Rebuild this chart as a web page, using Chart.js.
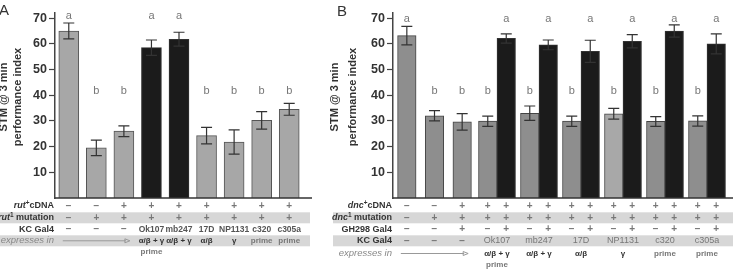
<!DOCTYPE html>
<html><head><meta charset="utf-8">
<script src="https://cdn.jsdelivr.net/npm/chart.js@4.4.0/dist/chart.umd.min.js"></script>
<style>
html,body{margin:0;padding:0;background:#fff;overflow:hidden}
#wrap{position:relative;width:733px;height:269px;background:#fff}
canvas{position:absolute;top:0}
#ca{left:0}
#cb{left:330px}
</style></head><body>
<div id="wrap"><canvas id="ca" width="330" height="269"></canvas><canvas id="cb" width="403" height="269"></canvas></div>
<script>
const yTickValues = [10, 20, 30, 40, 50, 60, 70];
const yTitle = ['STM @ 3 min', 'performance index'];

const aCategories = ['control 1', 'control 2', 'control 3', 'Ok107', 'mb247', '17D', 'NP1131', 'c320', 'c305a'];
const aNoRescue = [65, 19.5, 26, null, null, 24.3, 21.8, 30.2, 34.5];
const aRescue   = [null, null, null, 58.5, 61.8, null, null, null, null];
const aError    = [3.1, 3.0, 2.1, 3.0, 2.7, 3.2, 4.7, 3.4, 2.3];
const aLetters  = ['a', 'b', 'b', 'a', 'a', 'b', 'b', 'b', 'b'];
const aCDNA     = ['−', '−', '+', '+', '+', '+', '+', '+', '+'];
const aMutation = ['−', '+', '+', '+', '+', '+', '+', '+', '+'];
const aKCGal4   = ['−', '−', '−', 'Ok107', 'mb247', '17D', 'NP1131', 'c320', 'c305a'];
const aExpresses = ['', '', '', 'α/β + γ\nprime', 'α/β + γ', 'α/β', 'γ', 'prime', 'prime'];

const bControls     = ['control 1', 'control 2', 'control 3'];
const bCtrlValues   = [63.2, 32, 29.6];
const bCtrlError    = [3.6, 2.0, 3.2];
const bCtrlLetters  = ['a', 'b', 'b'];
const bCtrlCDNA     = ['−', '−', '+'];
const bCtrlMutation = ['−', '+', '+'];
const bCtrlGH298    = ['−', '−', '+'];
const bCtrlKC       = ['−', '−', '−'];

const bDrivers      = ['Ok107', 'mb247', '17D', 'NP1131', 'c320', 'c305a'];
const bExpresses    = ['α/β + γ\nprime', 'α/β + γ', 'α/β', 'γ', 'prime', 'prime'];
const bNoGH         = [29.9, 33, 29.9, 32.8, 29.8, 30];
const bNoGHError    = [2.0, 2.8, 2.0, 2.1, 1.9, 2.0];
const bNoGHLetters  = ['b', 'b', 'b', 'b', 'b', 'b'];
const bWithGH       = [62.1, 59.6, 57.1, 61.0, 65.0, 60.0];
const bWithGHError  = [1.8, 1.9, 4.3, 2.6, 2.4, 3.9];
const bWithGHLetters= ['a', 'a', 'a', 'a', 'a', 'a'];
const bNoGHCDNA     = ['+', '+', '+', '+', '+', '+'];
const bNoGHMutation = ['+', '+', '+', '+', '+', '+'];
const bNoGHGH298    = ['−', '−', '−', '−', '−', '−'];
const bGHCDNA       = ['+', '+', '+', '+', '+', '+'];
const bGHMutation   = ['+', '+', '+', '+', '+', '+'];
const bGHGH298      = ['+', '+', '+', '+', '+', '+'];

const FF = "'Liberation Sans', Arial, Helvetica, sans-serif";
const ROWS_Y = [206, 217.8, 229.3, 240.8, 253.5, 265];

function richRight(ctx, parts, xr, y) {
  let w = 0;
  parts.forEach(p => { ctx.font = p.f; p.w = ctx.measureText(p.t).width; w += p.w; });
  let x = xr - w;
  ctx.textAlign = 'left'; ctx.textBaseline = 'middle';
  parts.forEach(p => { ctx.font = p.f; ctx.fillStyle = p.c || '#333'; ctx.fillText(p.t, x, y + (p.dy || 0)); x += p.w; });
}
function centerText(ctx, t, x, y, font, color) {
  ctx.font = font; ctx.fillStyle = color; ctx.textAlign = 'center'; ctx.textBaseline = 'middle';
  ctx.fillText(t, x, y);
}
function cell(ctx, t, x, y, kind, lineGap) {
  if (t === '−' || t === '+') { centerText(ctx, t, x, y, 'bold 10px ' + FF, '#777'); return; }
  if (kind === 'kc') { centerText(ctx, t, x, y, 'bold 8.5px ' + FF, '#555'); return; }
  t.split('\n').forEach((ln, k) => {
    centerText(ctx, ln, x, y + k * (lineGap || 11.5), 'bold 8px ' + FF, ln === 'prime' ? '#777' : '#333');
  });
}
function arrow(ctx, x0, x1, y) {
  ctx.save();
  ctx.strokeStyle = '#999'; ctx.lineWidth = 1;
  ctx.beginPath(); ctx.moveTo(x0, y); ctx.lineTo(x1 - 4, y); ctx.stroke();
  ctx.beginPath(); ctx.moveTo(x1 - 5, y - 2); ctx.lineTo(x1, y); ctx.lineTo(x1 - 5, y + 2); ctx.closePath(); ctx.stroke();
  ctx.restore();
}
function yTitleDraw(ctx, xs, yc) {
  yTitle.forEach((t, i) => {
    ctx.save(); ctx.translate(xs[i], yc); ctx.rotate(-Math.PI / 2);
    centerText(ctx, t, 0, 0, 'bold 11px ' + FF, '#333');
    ctx.restore();
  });
}
function band(ctx, x0, x1, yc) { ctx.fillStyle = '#d7d7d7'; ctx.fillRect(x0, yc - 5.5, x1 - x0, 11); }

const errorBars = {
  id: 'errorBars',
  afterDatasetsDraw(chart, args, opts) {
    const ctx = chart.ctx, ys = chart.scales.y;
    chart.data.datasets.forEach((ds, di) => {
      const meta = chart.getDatasetMeta(di);
      meta.data.forEach((el, i) => {
        const v = ds.data[i]; if (v == null) return;
        const e = ds.errors[i];
        const yt = ys.getPixelForValue(v + e), yb = ys.getPixelForValue(v - e);
        ctx.save(); ctx.strokeStyle = '#333'; ctx.lineWidth = 1.2;
        ctx.beginPath();
        ctx.moveTo(el.x, yt); ctx.lineTo(el.x, yb);
        ctx.moveTo(el.x - 5.5, yt); ctx.lineTo(el.x + 5.5, yt);
        ctx.moveTo(el.x - 5.5, yb); ctx.lineTo(el.x + 5.5, yb);
        ctx.stroke(); ctx.restore();
        const L = ds.letters[i];
        centerText(ctx, L, el.x, ys.getPixelForValue(opts.levels[L]), '11px ' + FF, '#777');
      });
    });
  }
};

function yAxis(width) {
  return {
    min: 0, max: 72,
    afterFit(s) { s.width = width; },
    afterBuildTicks(s) { s.ticks = yTickValues.map(v => ({ value: v })); },
    ticks: { font: { family: FF, size: 12.5, weight: 'bold' }, color: '#333', padding: 2 },
    grid: { drawOnChartArea: false, tickLength: 6, color: '#444', tickWidth: 1.2 },
    border: { color: '#444', width: 1.5 }
  };
}

const tableA = {
  id: 'tableA',
  afterDraw(chart) {
    const ctx = chart.ctx, ca = chart.chartArea;
    const m0 = chart.getDatasetMeta(0), m1 = chart.getDatasetMeta(1);
    const xs = aCategories.map((c, i) => (aNoRescue[i] != null ? m0 : m1).data[i].x);
    ctx.save(); ctx.strokeStyle = '#333'; ctx.lineWidth = 1.5;
    ctx.beginPath(); ctx.moveTo(ca.left, ca.bottom); ctx.lineTo(ca.right + 9, ca.bottom); ctx.stroke(); ctx.restore();
    band(ctx, 0, ca.right + 7, ROWS_Y[1]);
    band(ctx, 0, ca.right + 7, ROWS_Y[3]);
    const xr = ca.left - 1;
    const B = 'bold 9px ' + FF, I = 'italic bold 9px ' + FF, S = 'bold 6.5px ' + FF;
    richRight(ctx, [{ t: 'rut', f: I }, { t: '+', f: S, dy: -3 }, { t: 'cDNA', f: B }], xr, ROWS_Y[0]);
    richRight(ctx, [{ t: 'rut', f: I }, { t: '1', f: S, dy: -3 }, { t: ' mutation', f: B }], xr, ROWS_Y[1]);
    richRight(ctx, [{ t: 'KC Gal4', f: B }], xr, ROWS_Y[2]);
    richRight(ctx, [{ t: 'expresses in', f: 'italic 9.5px ' + FF, c: '#888' }], xr, ROWS_Y[3]);
    xs.forEach((x, i) => {
      cell(ctx, aCDNA[i], x, ROWS_Y[0]);
      cell(ctx, aMutation[i], x, ROWS_Y[1]);
      cell(ctx, aKCGal4[i], x, ROWS_Y[2], 'kc');
      if (aExpresses[i]) cell(ctx, aExpresses[i], x, ROWS_Y[3], 'ex', 10.5);
    });
    const empty = xs.filter((x, i) => !aExpresses[i]);
    arrow(ctx, empty[0] - 6, empty[empty.length - 1] + 6, ROWS_Y[3]);
    yTitleDraw(ctx, [4, 18], 97);
    centerText(ctx, 'A', 4, 11, '15px ' + FF, '#333');
  }
};

new Chart(document.getElementById('ca'), {
  type: 'bar',
  data: {
    labels: aCategories,
    datasets: [
      { label: 'no rescue', data: aNoRescue, errors: aError, letters: aLetters, backgroundColor: '#a7a7a7', borderColor: '#555', borderWidth: 1, grouped: false, barThickness: 20 },
      { label: 'rescue', data: aRescue, errors: aError, letters: aLetters, backgroundColor: '#1b1b1b', borderColor: '#333', borderWidth: 1, grouped: false, barThickness: 20 }
    ]
  },
  options: {
    responsive: false, animation: false, devicePixelRatio: 1,
    layout: { padding: { left: 0, right: 27, top: 13, bottom: 71 } },
    plugins: { legend: { display: false }, tooltip: { enabled: false }, errorBars: { levels: { a: 70.8, b: 41.6 } } },
    scales: { x: { display: false }, y: yAxis(55) }
  },
  plugins: [errorBars, tableA]
});

const tableB = {
  id: 'tableB',
  afterDraw(chart) {
    const ctx = chart.ctx, ca = chart.chartArea;
    const mc = chart.getDatasetMeta(0), mn = chart.getDatasetMeta(1), mg = chart.getDatasetMeta(2);
    ctx.save(); ctx.strokeStyle = '#333'; ctx.lineWidth = 1.5;
    ctx.beginPath(); ctx.moveTo(ca.left, ca.bottom); ctx.lineTo(ca.right + 5, ca.bottom); ctx.stroke(); ctx.restore();
    band(ctx, 3, 403, ROWS_Y[1]);
    band(ctx, 3, 403, ROWS_Y[3]);
    const xr = ca.left - 1;
    const B = 'bold 9px ' + FF, I = 'italic bold 9px ' + FF, S = 'bold 6.5px ' + FF;
    richRight(ctx, [{ t: 'dnc', f: I }, { t: '+', f: S, dy: -3 }, { t: 'cDNA', f: B }], xr, ROWS_Y[0]);
    richRight(ctx, [{ t: 'dnc', f: I }, { t: '1', f: S, dy: -3 }, { t: ' mutation', f: B }], xr, ROWS_Y[1]);
    richRight(ctx, [{ t: 'GH298 Gal4', f: B }], xr, ROWS_Y[2]);
    richRight(ctx, [{ t: 'KC Gal4', f: B }], xr, ROWS_Y[3]);
    richRight(ctx, [{ t: 'expresses in', f: 'italic 9.5px ' + FF, c: '#888' }], xr, ROWS_Y[4]);
    bControls.forEach((c, i) => {
      const x = mc.data[i].x;
      cell(ctx, bCtrlCDNA[i], x, ROWS_Y[0]);
      cell(ctx, bCtrlMutation[i], x, ROWS_Y[1]);
      cell(ctx, bCtrlGH298[i], x, ROWS_Y[2]);
      cell(ctx, bCtrlKC[i], x, ROWS_Y[3]);
    });
    arrow(ctx, mc.data[0].x - 6, mc.data[bControls.length - 1].x + 6, ROWS_Y[4]);
    bDrivers.forEach((d, i) => {
      const xn = mn.data[i].x, xg = mg.data[i].x, xm = (xn + xg) / 2;
      cell(ctx, bNoGHCDNA[i], xn, ROWS_Y[0]); cell(ctx, bGHCDNA[i], xg, ROWS_Y[0]);
      cell(ctx, bNoGHMutation[i], xn, ROWS_Y[1]); cell(ctx, bGHMutation[i], xg, ROWS_Y[1]);
      cell(ctx, bNoGHGH298[i], xn, ROWS_Y[2]); cell(ctx, bGHGH298[i], xg, ROWS_Y[2]);
      centerText(ctx, d, xm, ROWS_Y[3], '9px ' + FF, '#777');
      cell(ctx, bExpresses[i], xm, ROWS_Y[4], 'ex');
    });
    yTitleDraw(ctx, [5, 23], 97);
    centerText(ctx, 'B', 12, 12, '15px ' + FF, '#333');
  }
};

new Chart(document.getElementById('cb'), {
  type: 'bar',
  data: {
    datasets: [
      { label: 'controls', data: bCtrlValues, errors: bCtrlError, letters: bCtrlLetters, xAxisID: 'xc', grouped: false, backgroundColor: '#8e8e8e', borderColor: '#444', borderWidth: 1, barThickness: 18.5 },
      { label: 'KC Gal4', data: bNoGH, errors: bNoGHError, letters: bNoGHLetters, xAxisID: 'xp', backgroundColor: ['#8e8e8e', '#8e8e8e', '#8e8e8e', '#a8a8a8', '#8e8e8e', '#8e8e8e'], borderColor: '#444', borderWidth: 1, barThickness: 18.5 },
      { label: 'KC Gal4 + GH298', data: bWithGH, errors: bWithGHError, letters: bWithGHLetters, xAxisID: 'xp', backgroundColor: '#1b1b1b', borderColor: '#333', borderWidth: 1, barThickness: 18.5 }
    ]
  },
  options: {
    responsive: false, animation: false, devicePixelRatio: 1,
    layout: { padding: { left: 0, right: 5, top: 13, bottom: 71 } },
    plugins: { legend: { display: false }, tooltip: { enabled: false }, errorBars: { levels: { a: 69.6, b: 41.8 } } },
    scales: {
      xc: { type: 'category', labels: bControls, position: 'bottom', stack: 'x', stackWeight: 83, display: false, offset: true },
      xp: { type: 'category', labels: bDrivers, position: 'bottom', stack: 'x', stackWeight: 252, display: false, offset: true },
      y: yAxis(63)
    }
  },
  plugins: [errorBars, tableB]
});
</script>
</body></html>
